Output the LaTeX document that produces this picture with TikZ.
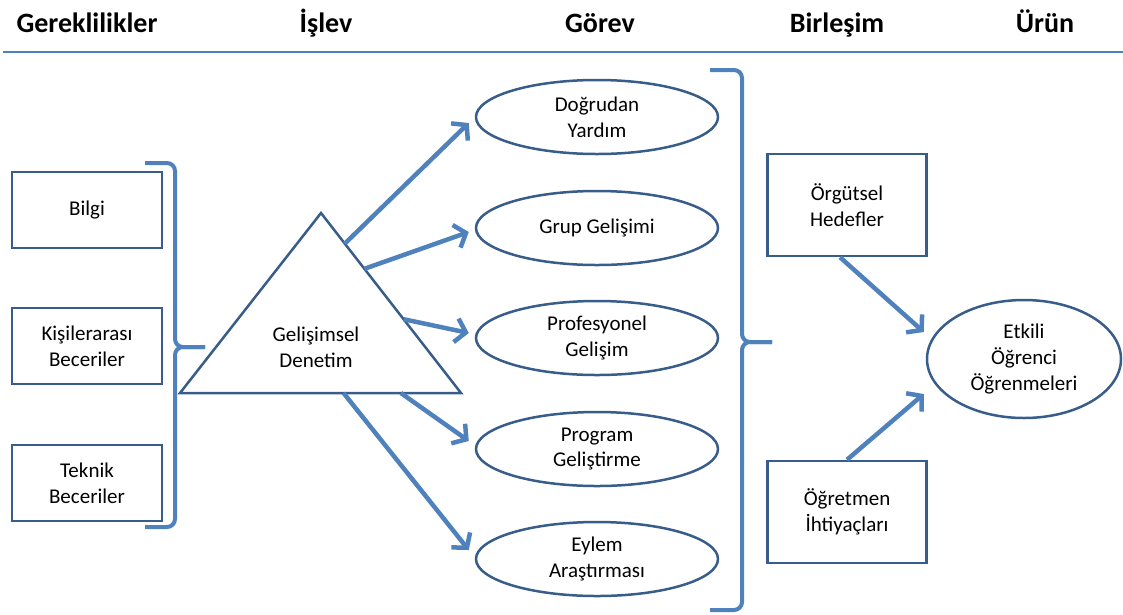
\documentclass[tikz,border=0pt]{standalone}
\usepackage{fontspec}
\setmainfont{Carlito}
\usepackage{xcolor}
\usepackage{tikz}
\usetikzlibrary{calc, shapes, arrows.meta}
\definecolor{lineblue}{HTML}{4F81BD}
\definecolor{edgeblue}{HTML}{385D8A}
\tikzset{>={Straight Barb[length=10pt,width=24pt]}}
\tikzset{
	header/.style={anchor=base, font=\fontsize{28}{34}\selectfont\bfseries},
	label/.style={align=center, font=\fontsize{21}{25.6}\selectfont},
	box/.style={label, draw=edgeblue, line width=2.5pt,
		minimum width=150pt, minimum height=76pt},
	bigbox/.style={box, minimum width=159pt, minimum height=102pt},
	task/.style={label, ellipse, draw=edgeblue, line width=2.5pt,
		inner sep=0pt, minimum width=242pt, minimum height=74pt},
	flow/.style={->, draw=lineblue, line width=4.5pt},
	brace/.style={draw=lineblue, line width=4pt, rounded corners=8pt},
}

\begin{document}
\begin{tikzpicture}[x=1pt, y=-1pt]
	\useasboundingbox (0,0) rectangle (1123,614);

% column headers
	\node[header] (h1) at (87,32) {Gereklilikler};
	\node[header] (h2) at (326,32) {İşlev};
	\node[header] (h3) at (600,32) {Görev};
	\node[header] (h4) at (837,32) {Birleşim};
	\node[header] (h5) at (1045,32) {Ürün};
	\draw[lineblue, line width=1.5pt] (3,52) -- (1123,52);

% requirements
	\node[box] (bilgi) at (87,210) {Bilgi};
	\node[box] (kisi) at (87,346) {Kişilerarası\\Beceriler};
	\node[box] (teknik) at (87,483) {Teknik\\Beceriler};

	\draw[brace] (145,163) -- (175,163) -- (175,347) -- (205,347);
	\draw[brace] (205,347) -- (175,347) -- (175,527) -- (145,527);

% function triangle
	\coordinate (apex) at (321,213);
	\coordinate (bl) at (180,393);
	\coordinate (br) at (461,393);
	\draw[edgeblue, line width=2.5pt] (apex) -- (bl) -- (br) -- cycle;
	\node[label] (islev) at (316,347) {Gelişimsel\\Denetim};

% tasks
	\node[task] (e1) at (597,117) {Doğrudan\\Yardım};
	\node[task] (e2) at (597,228) {Grup Gelişimi};
	\node[task] (e3) at (597,338) {Profesyonel\\Gelişim};
	\node[task] (e4) at (597,449) {Program\\Geliştirme};
	\node[task] (e5) at (597,559) {Eylem\\Araştırması};

	\draw[flow] ($(apex)!0.17!(br)$) -- ($(e1.west)+(-6,6)$);
	\draw[flow] ($(apex)!0.31!(br)$) -- ($(e2.west)+(-6,4)$);
	\draw[flow] ($(apex)!0.59!(br)$) -- ($(e3.west)+(-6,-5)$);
	\draw[flow] ($(bl)!0.786!(br)$) -- ($(e4.west)+(-6,-8)$);
	\draw[flow] ($(bl)!0.582!(br)$) -- ($(e5.west)+(-6,-9)$);

	\draw[brace] (710,70) -- (742,70) -- (742,342) -- (772,342);
	\draw[brace] (772,342) -- (742,342) -- (742,610) -- (710,610);

% integration and product
	\node[bigbox] (hedef) at (847,205) {Örgütsel\\Hedefler};
	\node[bigbox] (ihtiyac) at (847,512) {Öğretmen\\İhtiyaçları};
	\node[label, ellipse, draw=edgeblue, line width=2.5pt, inner sep=0pt,
		minimum width=194pt, minimum height=118pt] (urun) at (1024,359)
		{Etkili\\Öğrenci\\Öğrenmeleri};

	\draw[flow] ($(hedef.south)+(-7,0)$) -- ($(urun.west)+(-2,-27)$);
	\draw[flow] (ihtiyac.north) -- ($(urun.west)+(-2,35)$);
\end{tikzpicture}
\end{document}
